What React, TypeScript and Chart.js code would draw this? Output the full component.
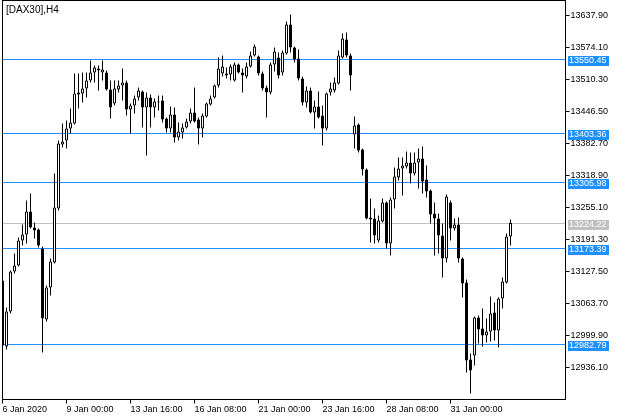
import React, { useEffect, useRef } from "react";
import { Chart, registerables } from "chart.js";

Chart.register(...registerables);

// H4 bars, 6 Jan 2020 08:00 ... 4 Feb 2020 12:00
const openP = [
  13109.6, 12977.9, 13047.7, 13127.5, 13139.4, 13189.3, 13201.3, 13247.1, 13215.2, 13211.2,
  13173.4, 13031.8, 13095.6, 13145.4, 13253.1, 13380.7, 13388.7, 13412.6, 13422.6, 13480.4,
  13482.4, 13492.3, 13508.3, 13524.3, 13532.2, 13524.3, 13524.3, 13490.4, 13462.4, 13490.4,
  13498.3, 13504.3, 13450.5, 13458.5, 13474.4, 13486.4, 13454.5, 13474.4, 13454.5, 13466.4,
  13468.4, 13432.5, 13412.6, 13440.5, 13394.7, 13404.6, 13414.6, 13426.6, 13444.5, 13430.5,
  13412.6, 13436.5, 13460.4, 13474.4, 13498.3, 13522.3, 13522.3, 13520.3, 13508.3, 13540.2,
  13524.3, 13516.3, 13536.2, 13558.1, 13556.2, 13522.3, 13494.3, 13484.4, 13540.2, 13554.2,
  13524.3, 13562.1, 13620.0, 13574.1, 13552.2, 13512.3, 13464.4, 13488.4, 13444.5, 13456.5,
  13438.5, 13412.6, 13484.4, 13488.4, 13502.3, 13554.2, 13590.0, 13558.1, 13400.6, 13420.6,
  13370.7, 13330.9, 13235.2, 13233.2, 13189.3, 13227.2, 13265.1, 13183.3, 13271.0, 13314.9,
  13332.8, 13336.8, 13344.8, 13322.9, 13344.8, 13352.8, 13310.9, 13289.0, 13243.1, 13233.2,
  13199.3, 13153.4, 13265.1, 13213.2, 13221.2, 13153.4, 13105.6, 12952.0, 12960.0, 13035.8,
  13013.8, 12999.9, 13007.9, 13045.7, 13009.9, 13073.7, 13105.6, 13197.3,
];
const highP = [
  13113.5, 13055.7, 13129.5, 13163.4, 13195.3, 13221.2, 13269.1, 13283.0, 13225.2, 13213.2,
  13177.3, 13099.6, 13153.4, 13322.9, 13388.7, 13422.6, 13428.6, 13452.5, 13522.3, 13522.3,
  13524.3, 13524.3, 13548.2, 13538.2, 13538.2, 13548.2, 13528.2, 13508.3, 13508.3, 13508.3,
  13532.2, 13508.3, 13462.4, 13478.4, 13494.3, 13488.4, 13484.4, 13480.4, 13472.4, 13478.4,
  13478.4, 13434.5, 13456.5, 13454.5, 13424.6, 13422.6, 13432.5, 13452.5, 13494.3, 13434.5,
  13442.5, 13464.4, 13478.4, 13500.3, 13554.2, 13558.1, 13534.2, 13540.2, 13544.2, 13542.2,
  13532.2, 13544.2, 13566.1, 13580.1, 13558.1, 13526.3, 13498.3, 13544.2, 13574.1, 13564.1,
  13568.1, 13625.9, 13639.9, 13576.1, 13570.1, 13516.3, 13496.3, 13494.3, 13468.4, 13486.4,
  13458.5, 13484.4, 13504.3, 13514.3, 13568.1, 13602.0, 13604.0, 13562.1, 13436.5, 13422.6,
  13372.7, 13332.8, 13273.0, 13253.1, 13239.1, 13273.0, 13267.1, 13275.0, 13334.8, 13354.8,
  13354.8, 13366.7, 13364.8, 13364.8, 13372.7, 13376.7, 13338.8, 13291.0, 13265.1, 13243.1,
  13223.2, 13281.0, 13269.1, 13233.2, 13235.2, 13155.4, 13111.5, 12964.0, 13037.8, 13039.7,
  13053.7, 13033.8, 13077.6, 13065.7, 13075.6, 13115.5, 13203.3, 13231.2,
];
const lowP = [
  12974.0, 12972.0, 13043.7, 13123.5, 13137.5, 13179.3, 13183.3, 13213.2, 13193.3, 13175.3,
  12966.0, 13027.8, 13079.6, 13143.4, 13249.1, 13374.7, 13372.7, 13402.6, 13420.6, 13452.5,
  13464.4, 13474.4, 13504.3, 13504.3, 13488.4, 13508.3, 13488.4, 13432.5, 13458.5, 13484.4,
  13468.4, 13438.5, 13402.6, 13442.5, 13468.4, 13414.6, 13358.8, 13414.6, 13434.5, 13448.5,
  13424.6, 13404.6, 13404.6, 13384.7, 13388.7, 13392.7, 13412.6, 13422.6, 13424.6, 13380.7,
  13394.7, 13434.5, 13458.5, 13472.4, 13494.3, 13516.3, 13512.3, 13508.3, 13506.3, 13522.3,
  13484.4, 13512.3, 13534.2, 13556.2, 13518.3, 13488.4, 13434.5, 13480.4, 13526.3, 13512.3,
  13518.3, 13560.1, 13564.1, 13544.2, 13508.3, 13458.5, 13454.5, 13442.5, 13412.6, 13432.5,
  13378.7, 13408.6, 13478.4, 13484.4, 13500.3, 13552.2, 13554.2, 13488.4, 13372.7, 13364.8,
  13318.9, 13231.2, 13185.3, 13183.3, 13185.3, 13225.2, 13173.4, 13159.4, 13253.1, 13308.9,
  13279.0, 13332.8, 13302.9, 13318.9, 13292.9, 13283.0, 13275.0, 13223.2, 13159.4, 13163.4,
  13115.5, 13145.4, 13189.3, 13209.2, 13145.4, 13075.6, 12926.1, 12884.3, 12940.1, 12983.9,
  12977.9, 12985.9, 12987.9, 12989.9, 12976.0, 13053.7, 13103.6, 13179.3,
];
const closeP = [
  12979.9, 13047.7, 13127.5, 13139.4, 13189.3, 13201.3, 13247.1, 13215.2, 13209.2, 13179.3,
  13033.8, 13095.6, 13147.4, 13255.1, 13382.7, 13386.7, 13412.6, 13424.6, 13482.4, 13484.4,
  13492.3, 13508.3, 13524.3, 13534.2, 13528.2, 13530.2, 13490.4, 13454.5, 13492.3, 13498.3,
  13504.3, 13450.5, 13458.5, 13472.4, 13488.4, 13454.5, 13474.4, 13454.5, 13466.4, 13464.4,
  13430.5, 13412.6, 13440.5, 13394.7, 13406.6, 13414.6, 13426.6, 13444.5, 13426.6, 13412.6,
  13438.5, 13462.4, 13472.4, 13498.3, 13532.2, 13536.2, 13518.3, 13536.2, 13540.2, 13524.3,
  13518.3, 13536.2, 13558.1, 13576.1, 13522.3, 13492.3, 13484.4, 13540.2, 13566.1, 13518.3,
  13564.1, 13620.0, 13574.1, 13550.2, 13512.3, 13464.4, 13488.4, 13444.5, 13456.5, 13434.5,
  13412.6, 13482.4, 13492.3, 13504.3, 13558.1, 13592.0, 13558.1, 13518.3, 13418.6, 13368.7,
  13330.9, 13233.2, 13231.2, 13199.3, 13229.2, 13265.1, 13183.3, 13271.0, 13316.9, 13332.8,
  13338.8, 13344.8, 13322.9, 13344.8, 13352.8, 13306.9, 13287.0, 13241.1, 13233.2, 13199.3,
  13153.4, 13277.0, 13213.2, 13221.2, 13153.4, 13103.6, 12950.0, 12930.1, 13035.8, 13011.8,
  12999.9, 13007.9, 13043.7, 13009.9, 13073.7, 13107.6, 13197.3, 13224.22,
];

const xTickBars = [0, 16, 32, 48, 64, 80, 96, 112];
const xTickLabels = [
  "6 Jan 2020", "9 Jan 00:00", "13 Jan 16:00", "16 Jan 08:00",
  "21 Jan 00:00", "23 Jan 16:00", "28 Jan 08:00", "31 Jan 00:00",
];
const yTickValues = [
  13637.9, 13574.1, 13510.3, 13446.5, 13382.7, 13318.9,
  13255.1, 13191.3, 13127.5, 13063.7, 12999.9, 12936.1,
];
const levelLines = [13550.45, 13403.36, 13305.98, 13173.39, 12982.79];
const bidLine = 13224.22;
const symbolTitle = "[DAX30],H4";

const FONT = "'Liberation Sans', Arial, sans-serif";
const BLUE = "#1e90ff";
const SILVER = "#c0c0c0";

export default function App() {
  const ref = useRef<HTMLCanvasElement>(null);

  useEffect(() => {
    document.body.style.margin = "0";
    const canvas = ref.current;
    if (!canvas) return;

    const bodies = openP.map((o, i) => ({ x: i, y: [o, closeP[i]] }));
    const wicks = lowP.map((l, i) => ({ x: i, y: [l, highP[i]] }));
    const bodyColors = openP.map((o, i) => (closeP[i] >= o ? "#ffffff" : "#000000"));

    const overlay = {
      id: "mtOverlay",
      beforeDatasetsDraw(chart: any) {
        const { ctx, chartArea: a, scales } = chart;
        const ys = scales.y;
        ctx.save();
        ctx.beginPath();
        ctx.rect(a.left, a.top, a.right - a.left, a.bottom - a.top);
        ctx.clip();
        ctx.lineWidth = 1;
        const line = (v: number, c: string) => {
          const py = Math.round(ys.getPixelForValue(v)) + 0.5;
          ctx.strokeStyle = c;
          ctx.beginPath();
          ctx.moveTo(a.left, py);
          ctx.lineTo(a.right, py);
          ctx.stroke();
        };
        line(bidLine, SILVER);
        levelLines.forEach((v) => line(v, BLUE));
        ctx.restore();
      },
      afterDraw(chart: any) {
        const { ctx, chartArea: a, scales } = chart;
        const ys = scales.y;
        ctx.save();
        ctx.strokeStyle = "#000";
        ctx.lineWidth = 1;
        ctx.strokeRect(a.left, a.top, a.right - a.left, a.bottom - a.top);
        ctx.font = `9px ${FONT}`;
        ctx.textAlign = "left";
        ctx.textBaseline = "middle";
        const box = (v: number, bg: string) => {
          const py = Math.round(ys.getPixelForValue(v));
          ctx.fillStyle = bg;
          ctx.fillRect(a.right + 2.5, py - 3, 41, 10);
          ctx.fillStyle = "#ffffff";
          ctx.fillText(v.toFixed(2), a.right + 3.5, py + 2);
        };
        box(bidLine, SILVER);
        levelLines.forEach((v) => box(v, BLUE));
        ctx.fillStyle = "#000";
        ctx.font = `10px ${FONT}`;
        ctx.fillText(symbolTitle, 6, 10);
        ctx.restore();
      },
    };

    const chart = new Chart(canvas, {
      type: "bar",
      data: {
        datasets: [
          {
            label: "body",
            data: bodies as any,
            backgroundColor: bodyColors,
            borderColor: "#000000",
            borderWidth: 1,
            borderSkipped: false,
            barThickness: 3,
            grouped: false,
            inflateAmount: 0,
            order: 0,
          } as any,
          {
            label: "wick",
            data: wicks as any,
            backgroundColor: "#000000",
            borderWidth: 0,
            barThickness: 1,
            grouped: false,
            inflateAmount: 0,
            order: 1,
          } as any,
        ],
      },
      options: {
        responsive: false,
        animation: false,
        devicePixelRatio: 1,
        events: [],
        layout: { padding: { left: 2.5, top: 0.5, right: 0, bottom: 0 } },
        plugins: { legend: { display: false }, tooltip: { enabled: false } },
        scales: {
          x: {
            type: "linear",
            offset: false,
            min: 0,
            max: 140.75,
            bounds: "data",
            afterBuildTicks: (s: any) => {
              s.ticks = xTickBars.map((v) => ({ value: v }));
            },
            afterFit: (s: any) => {
              s.height = 20.5;
              s.paddingLeft = 0;
              s.paddingRight = 0;
            },
            ticks: {
              autoSkip: false,
              maxRotation: 0,
              minRotation: 0,
              align: "start",
              padding: 1,
              color: "#000",
              font: { family: FONT, size: 9 },
              callback: (_v: any, i: number) => xTickLabels[i],
            },
            grid: { offset: false, drawOnChartArea: false, drawTicks: true, tickLength: 4, color: "#000" },
            border: { display: false },
          } as any,
          y: {
            type: "linear",
            position: "right",
            min: 12872.3,
            max: 13667.8,
            bounds: "data",
            afterBuildTicks: (s: any) => {
              s.ticks = yTickValues.map((v) => ({ value: v }));
            },
            afterFit: (s: any) => {
              s.width = 57.5;
              s.paddingTop = 0;
              s.paddingBottom = 0;
            },
            ticks: {
              autoSkip: false,
              padding: 1,
              color: "#000",
              font: { family: FONT, size: 9 },
              callback: (v: any) => Number(v).toFixed(2),
            },
            grid: { drawOnChartArea: false, drawTicks: true, tickLength: 4, color: "#000" },
            border: { display: false },
          } as any,
        },
      },
      plugins: [overlay],
    });

    return () => chart.destroy();
  }, []);

  return (
    <div style={{ width: 623, height: 420, background: "#fff" }}>
      <canvas ref={ref} width={623} height={420} style={{ display: "block" }} />
    </div>
  );
}
